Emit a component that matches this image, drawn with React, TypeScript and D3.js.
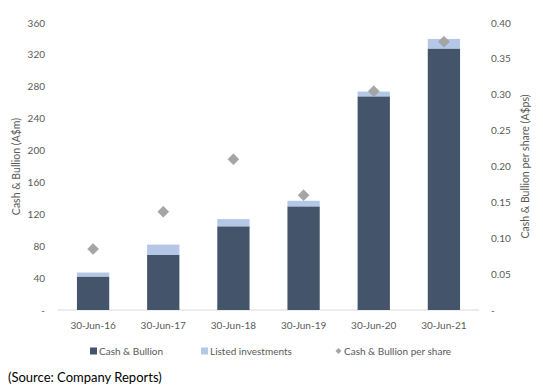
import React, { useEffect, useRef } from "react";
import * as d3 from "d3";

const categories = ["30-Jun-16", "30-Jun-17", "30-Jun-18", "30-Jun-19", "30-Jun-20", "30-Jun-21"];
const cashBullion = [42, 69, 105, 130, 268, 328];
const listedInvestments = [5, 13, 9, 7, 6, 12];
const perShare = [0.085, 0.137, 0.21, 0.16, 0.305, 0.374];
const leftTicks = [0, 40, 80, 120, 160, 200, 240, 280, 320, 360];
const rightTicks = [0, 0.05, 0.1, 0.15, 0.2, 0.25, 0.3, 0.35, 0.4];

const DARK = "#44546A";
const LIGHT = "#B4C7E7";
const GREY = "#A5A5A5";
const TEXT = "#595959";
const FONT = "Lato, 'Open Sans', sans-serif";

function App() {
  const ref = useRef<SVGSVGElement>(null);

  useEffect(() => {
    const svg = d3.select(ref.current);
    svg.selectAll("*").remove();

    const margin = { top: 23, left: 58, right: 64, bottom: 82 };
    const width = 543;
    const height = 392;
    const plotW = width - margin.left - margin.right;
    const plotH = height - margin.top - margin.bottom;

    const x = d3.scaleBand().domain(categories).range([0, plotW]).paddingInner(0.54).paddingOuter(0.27);
    const yL = d3.scaleLinear().domain([0, 360]).range([plotH, 0]);
    const yR = d3.scaleLinear().domain([0, 0.4]).range([plotH, 0]);

    const g = svg.append("g").attr("transform", `translate(${margin.left},${margin.top})`);

    // left ticks
    g.selectAll(".lt")
      .data(leftTicks)
      .enter()
      .append("text")
      .attr("x", -13)
      .attr("y", (d) => yL(d))
      .attr("dy", "0.35em")
      .attr("text-anchor", "end")
      .style("font-family", FONT)
      .style("font-size", "10px")
      .style("fill", TEXT)
      .text((d) => (d === 0 ? "-" : String(d)));

    // right ticks
    g.selectAll(".rt")
      .data(rightTicks)
      .enter()
      .append("text")
      .attr("x", plotW + 12)
      .attr("y", (d) => yR(d))
      .attr("dy", "0.35em")
      .attr("text-anchor", "start")
      .style("font-family", FONT)
      .style("font-size", "10px")
      .style("fill", TEXT)
      .text((d) => (d === 0 ? "-" : d.toFixed(2)));

    // baseline
    g.append("line")
      .attr("x1", 0)
      .attr("x2", plotW)
      .attr("y1", yL(0))
      .attr("y2", yL(0))
      .style("stroke", "#D9D9D9")
      .style("stroke-width", 1);

    // stacked bars
    g.selectAll(".cash")
      .data(cashBullion)
      .enter()
      .append("rect")
      .attr("x", (_, i) => x(categories[i])!)
      .attr("width", x.bandwidth())
      .attr("y", (d) => yL(d))
      .attr("height", (d) => yL(0) - yL(d))
      .style("fill", DARK);

    g.selectAll(".listed")
      .data(listedInvestments)
      .enter()
      .append("rect")
      .attr("x", (_, i) => x(categories[i])!)
      .attr("width", x.bandwidth())
      .attr("y", (d, i) => yL(cashBullion[i] + d))
      .attr("height", (d, i) => yL(cashBullion[i]) - yL(cashBullion[i] + d))
      .style("fill", LIGHT);

    // per share diamonds
    const diamond = d3.symbol().type(d3.symbolSquare).size(60);
    g.selectAll(".ps")
      .data(perShare)
      .enter()
      .append("path")
      .attr("d", diamond)
      .attr("transform", (d, i) => `translate(${x(categories[i])! + x.bandwidth() / 2},${yR(d)}) rotate(45)`)
      .style("fill", GREY)
      .style("stroke", "#9A9A9A")
      .style("stroke-width", 0.5);

    // category labels
    g.selectAll(".cat")
      .data(categories)
      .enter()
      .append("text")
      .attr("x", (d) => x(d)! + x.bandwidth() / 2)
      .attr("y", plotH + 19)
      .attr("text-anchor", "middle")
      .style("font-family", FONT)
      .style("font-size", "10px")
      .style("fill", TEXT)
      .text((d) => d);

    // axis titles
    svg
      .append("text")
      .attr("transform", `translate(20,${margin.top + plotH * 0.5}) rotate(-90)`)
      .attr("text-anchor", "middle")
      .style("font-family", FONT)
      .style("font-size", "10.5px")
      .style("fill", TEXT)
      .text("Cash & Bullion (A$m)");

    svg
      .append("text")
      .attr("transform", `translate(529,${margin.top + plotH * 0.5}) rotate(-90)`)
      .attr("text-anchor", "middle")
      .style("font-family", FONT)
      .style("font-size", "10.5px")
      .style("fill", TEXT)
      .text("Cash & Bullion per share (A$ps)");

    // legend
    const legendY = 351;
    const legend = [
      { label: "Cash & Bullion", x: 90, kind: "rect", color: DARK },
      { label: "Listed investments", x: 201, kind: "rect", color: LIGHT },
      { label: "Cash & Bullion per share", x: 335, kind: "diamond", color: GREY },
    ];
    const lg = svg.selectAll(".leg").data(legend).enter().append("g");
    lg.filter((d) => d.kind === "rect")
      .append("rect")
      .attr("x", (d) => d.x)
      .attr("y", legendY - 3.5)
      .attr("width", 7)
      .attr("height", 7)
      .style("fill", (d) => d.color);
    lg.filter((d) => d.kind === "diamond")
      .append("path")
      .attr("d", d3.symbol().type(d3.symbolSquare).size(18))
      .attr("transform", (d) => `translate(${d.x + 3.5},${legendY}) rotate(45)`)
      .style("fill", (d) => d.color);
    lg.append("text")
      .attr("x", (d) => d.x + 9)
      .attr("y", legendY)
      .attr("dy", "0.35em")
      .style("font-family", FONT)
      .style("font-size", "10px")
      .style("fill", TEXT)
      .text((d) => d.label);

    svg
      .append("text")
      .attr("x", 8)
      .attr("y", 382)
      .style("font-family", FONT)
      .style("font-size", "13px")
      .style("fill", "#000")
      .text("(Source: Company Reports)");
  }, []);

  return (
    <svg
      ref={ref}
      width={543}
      height={392}
      style={{ position: "absolute", top: 0, left: 0, background: "#fff" }}
    />
  );
}

export default App;
